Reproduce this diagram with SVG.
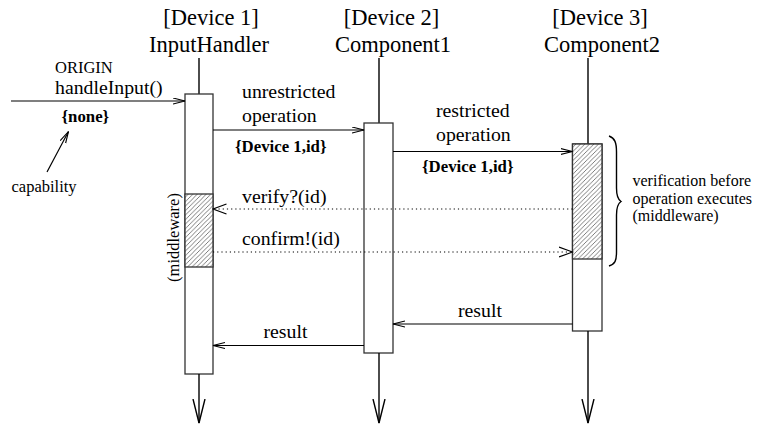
<svg xmlns="http://www.w3.org/2000/svg" width="761" height="425" viewBox="0 0 761 425" font-family="'Liberation Serif', 'Times New Roman', 'DejaVu Serif', serif">
  <style>
    text { font-family: 'Liberation Serif', 'Times New Roman', 'DejaVu Serif', serif; fill: #000; }
    .hdr { font-size: 22.5px; text-anchor: middle; }
    .lbl { font-size: 19.8px; }
    .sm { font-size: 16.5px; }
    .note { font-size: 16px; }
    .cap { font-size: 16.8px; font-weight: bold; }
    .life { stroke: #000; stroke-width: 1.4; fill: none; }
    .box { stroke: #333; stroke-width: 1.3; fill: #fff; }
    .hatch { stroke: #333; stroke-width: 1.3; fill: url(#hatch); }
    .msg { stroke: #000; stroke-width: 1.2; fill: none; }
    .dot { stroke: #000; stroke-width: 1.2; fill: none; stroke-dasharray: 1.2 3; }
  </style>
  <defs>
    <pattern id="hatch" patternUnits="userSpaceOnUse" width="4.5" height="4.5">
      <rect width="4.5" height="4.5" fill="#fff"/>
      <path d="M-1,5.5 L5.5,-1 M-1,1 L1,-1 M3.5,5.5 L5.5,3.5" stroke="#444" stroke-width="0.7"/>
    </pattern>
    <marker id="arr" markerUnits="userSpaceOnUse" markerWidth="14" markerHeight="8" refX="12" refY="3.5" orient="auto">
      <path d="M0,0.5 L12,3.5 L0,6.5" fill="none" stroke="#000" stroke-width="1.1"/>
    </marker>
    <marker id="arrw" markerUnits="userSpaceOnUse" markerWidth="15" markerHeight="12" refX="13.5" refY="6" orient="auto">
      <path d="M0,1 L13.5,6 L0,11" fill="none" stroke="#000" stroke-width="1.2"/>
    </marker>
    <marker id="down" markerUnits="userSpaceOnUse" markerWidth="26" markerHeight="16" refX="24" refY="7" orient="auto">
      <path d="M0,1 L24,7 L0,13" fill="none" stroke="#000" stroke-width="1.4"/>
    </marker>
  </defs>

  <!-- Device 1: InputHandler -->
  <g id="inputhandler">
    <text class="hdr" x="211" y="25">[Device 1]</text>
    <text class="hdr" x="209" y="51.5">InputHandler</text>
    <line class="life" x1="199" y1="58" x2="199" y2="94"/>
    <rect class="box" x="185" y="94" width="28" height="280"/>
    <rect class="hatch" x="185" y="194" width="28" height="73"/>
    <line class="life" x1="199" y1="374" x2="199" y2="423" marker-end="url(#down)"/>
    <text class="sm" transform="translate(178.5,237.5) rotate(-90)" text-anchor="middle">(middleware)</text>
  </g>

  <!-- Device 2: Component1 -->
  <g id="component1">
    <text class="hdr" x="391.5" y="25">[Device 2]</text>
    <text class="hdr" x="393" y="51.5">Component1</text>
    <line class="life" x1="379" y1="58" x2="379" y2="123"/>
    <rect class="box" x="364" y="123" width="29" height="230"/>
    <line class="life" x1="379" y1="353" x2="379" y2="423" marker-end="url(#down)"/>
  </g>

  <!-- Device 3: Component2 -->
  <g id="component2">
    <text class="hdr" x="600" y="25">[Device 3]</text>
    <text class="hdr" x="602" y="51.5">Component2</text>
    <line class="life" x1="588" y1="58" x2="588" y2="144"/>
    <rect class="box" x="572.5" y="144" width="29.5" height="187"/>
    <rect class="hatch" x="572.5" y="144" width="29.5" height="115"/>
    <line class="life" x1="588" y1="331" x2="588" y2="423" marker-end="url(#down)"/>
  </g>

  <!-- verification note with its brace -->
  <g id="verification-note">
    <path class="life" d="M609,136 C615,138 616.5,143 616.5,152 L616.5,188 C616.5,196 618,199.5 621,201.5 C618,203.5 616.5,207 616.5,215 L616.5,252 C616.5,261 615,264 609,266" stroke-width="1.3"/>
    <text class="note" x="632.5" y="186">verification before</text>
    <text class="note" x="632.5" y="203.5">operation executes</text>
    <text class="note" x="632.5" y="221">(middleware)</text>
  </g>

  <!-- capability annotation -->
  <g id="capability-note">
    <text class="sm" x="11.5" y="192" font-size="16.8">capability</text>
  </g>

  <g id="connectors">
    <line class="msg" x1="11" y1="101" x2="185" y2="101" marker-end="url(#arr)"/>
    <line class="msg" x1="213" y1="130" x2="364" y2="130" marker-end="url(#arr)"/>
    <line class="msg" x1="393" y1="151.5" x2="572.5" y2="151.5" marker-end="url(#arr)"/>
    <line class="dot" x1="572.5" y1="209" x2="213" y2="209" marker-end="url(#arrw)"/>
    <line class="dot" x1="213" y1="252" x2="572.5" y2="252" marker-end="url(#arrw)"/>
    <line class="msg" x1="572.5" y1="324" x2="393" y2="324" marker-end="url(#arr)"/>
    <line class="msg" x1="364" y1="345.5" x2="213" y2="345.5" marker-end="url(#arr)"/>
    <line class="msg" x1="47" y1="172" x2="68.5" y2="131.5" marker-end="url(#arr)"/>
  </g>

  <g id="connector-labels">
    <text class="sm" x="55" y="73.3" font-size="16.7">ORIGIN</text>
    <text class="lbl" x="55" y="94.3">handleInput()</text>
    <text class="cap" x="61.5" y="122">{none}</text>
    <text class="lbl" x="242" y="98">unrestricted</text>
    <text class="lbl" x="242" y="122">operation</text>
    <text class="cap" x="235" y="152">{Device 1,id}</text>
    <text class="lbl" x="436" y="117">restricted</text>
    <text class="lbl" x="436" y="140.5">operation</text>
    <text class="cap" x="422" y="172">{Device 1,id}</text>
    <text class="lbl" x="242" y="202.5">verify?(id)</text>
    <text class="lbl" x="242" y="245">confirm!(id)</text>
    <text class="lbl" x="458" y="316.5">result</text>
    <text class="lbl" x="263.5" y="338.3">result</text>
  </g>
</svg>
